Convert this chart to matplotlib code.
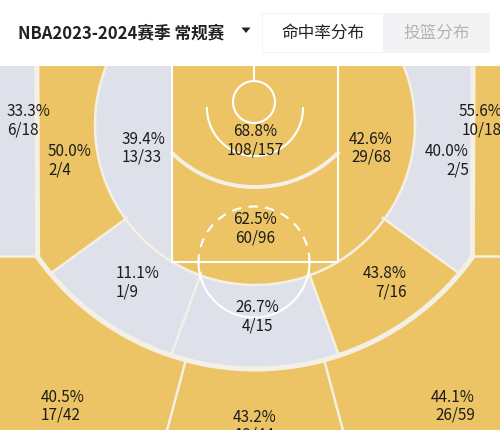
import numpy as np
import matplotlib.pyplot as plt
from matplotlib.patches import Polygon, Rectangle

plt.rcParams['font.family'] = ['Noto Sans CJK SC', 'DejaVu Sans']

# 投篮区域数据 (命中 / 出手)
zone_names = ['左侧底角三分', '左侧底线中投', '左侧中投', '限制区', '油漆区', '右侧中投',
              '右侧底线中投', '右侧底角三分', '左侧45度中投', '正面中投', '右侧45度中投',
              '左侧45度三分', '正面三分', '右侧45度三分']
made = [6, 2, 13, 108, 60, 29, 2, 10, 1, 4, 7, 17, 19, 26]
attempts = [18, 4, 33, 157, 96, 68, 5, 18, 9, 15, 16, 42, 44, 59]
above_avg = [False, True, False, True, True, True, False, True,
             False, False, True, True, True, True]

season = 'NBA2023-2024赛季 常规赛'
tabs = ['命中率分布', '投篮分布']

HOT = '#ECC465'
COLD = '#DEE1E9'
SEP = '#F5F0E6'
LINE = 'white'

# 球场几何 (像素坐标, y 向下)
TOP = 66
B = np.array([255., 102.])      # 篮筐
R3 = 267                        # 三分线
C2 = np.array([255., 125.])     # 中投分区圆心
R2 = 160
PL, PR, FT = 172, 338, 262      # 油漆区
CY = 256                        # 底角三分线终点
XL = B[0] - np.sqrt(R3**2 - (CY - B[1])**2)
XR = B[0] + np.sqrt(R3**2 - (CY - B[1])**2)


def direc(a):
    a = np.radians(a)
    return np.array([np.cos(a), np.sin(a)])


def in_three(q):
    x, y = q[..., 0], q[..., 1]
    d = np.hypot(x - B[0], y - B[1])
    return (y >= TOP - 10) & (x >= XL) & (x <= XR) & ((y <= CY) | (d <= R3))


def in_disk(q, lo, hi):
    x, y = q[..., 0], q[..., 1]
    d = np.hypot(x - C2[0], y - C2[1])
    return (d <= R2) & (x >= lo) & (x <= hi) & (y >= TOP - 10)


def ray_hit(c, a, inside):
    t = np.linspace(0, 900, 9001)
    q = c + t[:, None] * direc(a)
    ok = inside(q)
    i = len(t) - 1 if ok.all() else np.argmin(ok) - 1
    return q[i]


def star_poly(c, a1, a2, inside, apex=True, n=240):
    pts = [c] if apex else []
    pts += [ray_hit(c, a, inside) for a in np.linspace(a1, a2, n)]
    return np.array(pts)


def wedge(c, a1, a2, r=2000, n=120):
    return np.vstack([c, [c + r * direc(a) for a in np.linspace(a1, a2, n)]])


fig = plt.figure(figsize=(5, 4.3), dpi=100)
ax = fig.add_axes([0, 0, 1, 1])
ax.set_xlim(0, 500)
ax.set_ylim(430, 0)
ax.axis('off')

col = [HOT if h else COLD for h in above_avg]

# 区域形状
shapes = [None] * 14
shapes[11] = wedge(B, 105, 270)
shapes[12] = wedge(B, 75, 105)
shapes[13] = wedge(B, -90, 75)
shapes[0] = np.array([[0, TOP - 10], [XL, TOP - 10], [XL, CY], [0, CY]])
shapes[7] = np.array([[XR, TOP - 10], [510, TOP - 10], [510, CY], [XR, CY]])
shapes[1] = star_poly(C2, 144, 270, in_three)
shapes[8] = star_poly(C2, 110, 144, in_three)
shapes[9] = star_poly(C2, 70, 110, in_three)
shapes[10] = star_poly(C2, 36, 70, in_three)
shapes[6] = star_poly(C2, -90, 36, in_three)
shapes[2] = star_poly(np.array([130., 180.]), 0, 360,
                      lambda q: in_disk(q, -99, PL), apex=False, n=720)
shapes[5] = star_poly(np.array([380., 180.]), 0, 360,
                      lambda q: in_disk(q, PR, 999), apex=False, n=720)
shapes[4] = star_poly(np.array([255., 200.]), 0, 360,
                      lambda q: in_disk(q, PL, PR), apex=False, n=720)
ra_c, ra_r = np.array([255., 69.]), 118
a0 = np.degrees(np.arccos((PR - ra_c[0]) / ra_r))
ra_arc = np.array([ra_c + ra_r * direc(a) for a in np.linspace(a0, 180 - a0, 100)])
shapes[3] = np.vstack([[PR, TOP - 10], ra_arc, [PL, TOP - 10]])

for i in [11, 12, 13, 0, 7, 1, 8, 9, 10, 6, 2, 5, 4, 3]:
    ax.add_patch(Polygon(shapes[i], closed=True, fc=col[i], ec='none', zorder=1))

# 分区分隔线
for a in [144, 110, 70, 36]:
    p0 = C2 + (R2 - 2) * direc(a)
    p1 = ray_hit(C2, a, in_three)
    ax.plot([p0[0], p1[0]], [p0[1], p1[1]], color=SEP, lw=1.8, zorder=2)
for a in [105, 75]:
    p0 = B + R3 * direc(a)
    p1 = B + 600 * direc(a)
    ax.plot([p0[0], p1[0]], [p0[1], p1[1]], color=SEP, lw=1.8, zorder=2)
ax.plot([0, XL], [CY, CY], color=SEP, lw=1.8, zorder=2)
ax.plot([XR, 510], [CY, CY], color=SEP, lw=1.8, zorder=2)
th = np.linspace(0, 360, 721)
ax.plot(C2[0] + R2 * np.cos(np.radians(th)), C2[1] + R2 * np.sin(np.radians(th)),
        color=SEP, lw=1.8, zorder=2)
ax.plot(ra_arc[:, 0], ra_arc[:, 1], color=SEP, lw=2.8, zorder=2)

# 三分线
th = np.radians(np.linspace(0, 180, 361))
arc3 = np.column_stack([B[0] + R3 * np.cos(th), B[1] + R3 * np.sin(th)])
arc3 = arc3[arc3[:, 1] >= CY - 0.5]
ax.plot(np.r_[XR, arc3[:, 0], XL], np.r_[TOP - 10, arc3[:, 1], TOP - 10],
        color=SEP, lw=3.6, zorder=3, solid_capstyle='butt')

# 球场线
ax.plot([PL, PL, PR, PR], [TOP - 10, FT, FT, TOP - 10], color=LINE, lw=1.5, zorder=3)
ftc, ftr = np.array([254., FT]), 55.5
th = np.radians(np.linspace(0, 180, 181))
ax.plot(ftc[0] + ftr * np.cos(th), ftc[1] + ftr * np.sin(th), color=LINE, lw=1.5, zorder=3)
ax.plot(ftc[0] + ftr * np.cos(-th), ftc[1] + ftr * np.sin(-th), color=LINE, lw=1.5,
        zorder=3, dashes=(4.5, 3.5))
rac, rar = np.array([255., 108.]), 48
ax.plot(rac[0] + rar * np.cos(th), rac[1] + rar * np.sin(th), color=LINE, lw=1.5, zorder=3)
th2 = np.radians(np.linspace(0, 360, 181))
ax.plot(254 + 21 * np.cos(th2), 102 + 21 * np.sin(th2), color=LINE, lw=1.5, zorder=3)
ax.plot([254, 254], [TOP - 10, 81], color=LINE, lw=1.5, zorder=3)

# 标签
label_pos = [(7, 121, 'left'), (48, 161, 'left'), (122, 148, 'left'), (255, 141, 'center'),
             (255, 229, 'center'), (371, 148, 'center'), (469, 161, 'right'),
             (502, 121, 'right'), (116, 283, 'left'), (257, 317, 'center'),
             (407, 283, 'right'), (41, 406, 'left'), (255, 426, 'center'),
             (475, 406, 'right')]
for i, (x, y, ha) in enumerate(label_pos):
    pct = '{:.1f}%'.format(100 * made[i] / attempts[i])
    cnt = '{}/{}'.format(made[i], attempts[i])
    ax.text(x, y - 9, pct, ha=ha, va='center', fontsize=11, fontweight='medium',
            color='#1c1c1c', zorder=4)
    ax.text(x, y + 9, cnt, ha=ha, va='center', fontsize=11, fontweight='medium',
            color='#1c1c1c', zorder=4)

# 顶部栏
ax.add_patch(Rectangle((0, 0), 500, TOP, fc='white', ec='none', zorder=5))
ax.text(18, 33, season, ha='left', va='center', fontsize=12, fontweight='bold',
        color='#222222', zorder=6)
ax.add_patch(Polygon([[241.5, 27.5], [250.5, 27.5], [246, 33]], fc='#222222', ec='none', zorder=6))
ax.add_patch(Rectangle((262, 13), 228, 40, fc='#F3F3F5', ec='none', zorder=5))
ax.add_patch(Rectangle((263, 14), 120, 38, fc='white', ec='none', zorder=5))
ax.text(322.5, 33, tabs[0], ha='center', va='center', fontsize=12, color='#222222', zorder=6)
ax.text(436.5, 33, tabs[1], ha='center', va='center', fontsize=12, color='#B3B3B3', zorder=6)

fig.savefig('out.png', dpi=100)
